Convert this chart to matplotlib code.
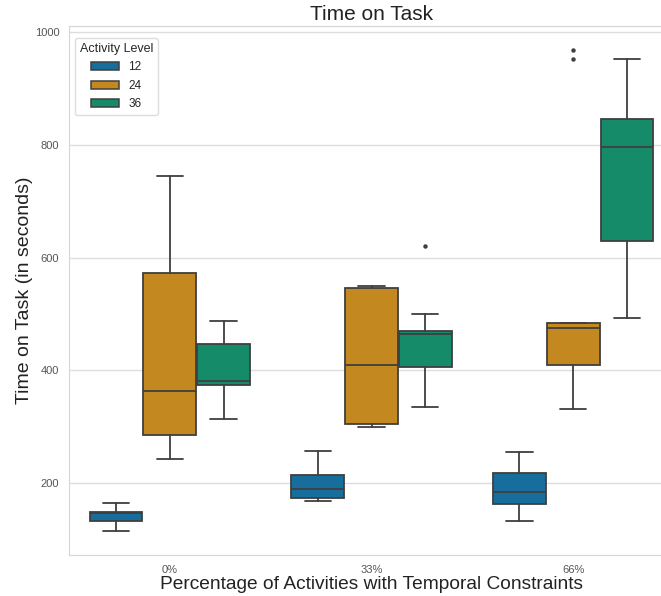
import matplotlib
matplotlib.use("Agg")
import matplotlib.pyplot as plt
import matplotlib.patches as mpatches
import seaborn as sns

# box statistics (seconds)
groups = ["0%", "33%", "66%"]
levels = ["12", "24", "36"]
# one row per activity level, one column per group
whislo = [[114, 167, 132], [243, 300, 331], [313, 335, 492]]
q1 = [[133, 173, 163], [285, 305, 410], [374, 406, 629]]
med = [[146, 189, 183], [363, 410, 475], [380, 464, 796]]
q3 = [[149, 214, 218], [572, 546, 484], [446, 469, 846]]
whishi = [[165, 257, 254], [745, 550, 484], [488, 499, 953]]
fliers = [[[], [], []], [[], [], [968, 952]], [[], [621], []]]

sns.set_style("whitegrid")
plt.rcParams["font.family"] = ["Liberation Sans", "DejaVu Sans"]

pal = [sns.desaturate(c, 0.75) for c in sns.color_palette("colorblind", 3)]
edge = "#3f3f3f"

fig = plt.figure(figsize=(6.61, 5.96), dpi=100)
ax = fig.add_axes([69 / 661, 41 / 596, 605 / 661, 529 / 596])

width = 0.8 / len(levels)
for i, lev in enumerate(levels):
    stats = []
    for j in range(len(groups)):
        stats.append(dict(whislo=whislo[i][j], q1=q1[i][j], med=med[i][j],
                          q3=q3[i][j], whishi=whishi[i][j], fliers=fliers[i][j]))
    pos = [j + (i - 1) * width for j in range(len(groups))]
    ax.bxp(stats, positions=pos, widths=width * 0.98, patch_artist=True,
           showfliers=True, manage_ticks=False,
           boxprops=dict(facecolor=pal[i], edgecolor=edge, linewidth=1.3),
           medianprops=dict(color=edge, linewidth=1.3),
           whiskerprops=dict(color=edge, linewidth=1.3),
           capprops=dict(color=edge, linewidth=1.3),
           flierprops=dict(marker="o", markersize=2.2, markerfacecolor=edge,
                           markeredgecolor=edge))

ax.set_xlim(-0.5, 2.5)
ax.set_ylim(72, 1011)
ax.set_xticks(range(len(groups)))
ax.set_xticklabels(groups, fontsize=8, color="#555555")
ax.set_yticks([200, 400, 600, 800, 1000])
ax.tick_params(axis="y", labelsize=8, labelcolor="#555555")
ax.xaxis.grid(False)
ax.yaxis.grid(True, color="#dddddd", linewidth=1)
for s in ax.spines.values():
    s.set_color("#d5d5d5")
ax.spines["right"].set_visible(False)

ax.set_title("Time on Task", fontsize=15, color="#222222", pad=4)
ax.set_xlabel("Percentage of Activities with Temporal Constraints", fontsize=13.8,
              color="#222222", labelpad=1)
ax.set_ylabel("Time on Task (in seconds)", fontsize=14, color="#222222")
ax.yaxis.set_label_coords(-0.06, 0.5)

handles = [mpatches.Patch(facecolor=pal[i], edgecolor=edge, linewidth=1.1, label=l)
           for i, l in enumerate(levels)]
leg = ax.legend(handles=handles, title="Activity Level", loc="upper left",
                fontsize=8.5, title_fontsize=9, frameon=True, borderpad=0.4,
                labelspacing=0.55, handlelength=2.3, handleheight=0.7,
                bbox_to_anchor=(0.0, 0.988))
leg.get_frame().set_edgecolor("#d5d5d5")

fig.savefig("out.png", dpi=100)
